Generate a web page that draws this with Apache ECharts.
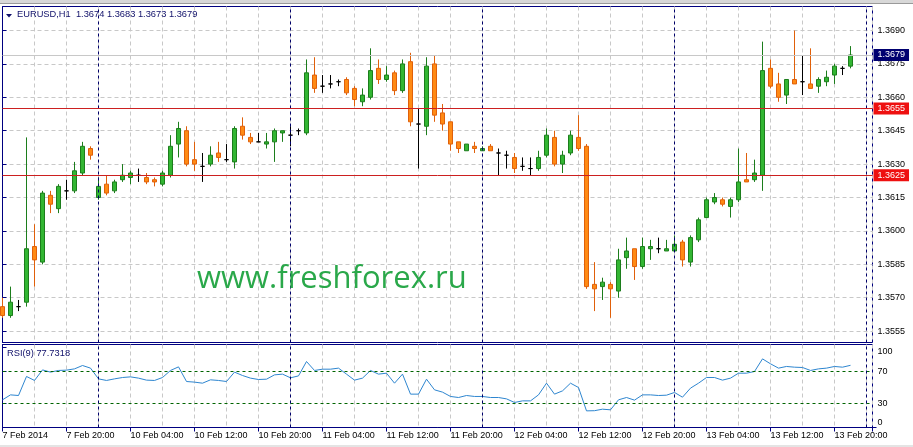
<!DOCTYPE html>
<html><head><meta charset="utf-8">
<script src="https://cdn.jsdelivr.net/npm/echarts@6/dist/echarts.min.js"></script>
<style>html,body{margin:0;padding:0;background:#fff}#main{width:913px;height:447px}</style>
</head><body><div id="main"></div>
<script>
// ---------- data ----------
const symbolName = 'EURUSD,H1';
const opens = [1.3566,1.3562,1.3566,1.3568,1.3593,1.3586,1.3616,1.3610,1.3618,1.3618,
 1.3626,1.3637,1.3615,1.3621,1.3618,1.3623,1.3624,1.3625,1.3624,1.3623,
 1.3621,1.3625,1.3639,1.3645,1.3632,1.3629,1.3630,1.3635,1.3632,1.3631,
 1.3647,1.3642,1.3640,1.3639,1.3640,1.3644,1.3643,1.3645,1.3644,1.3670,
 1.3665,1.3666,1.3667,1.3668,1.3664,1.3658,1.3660,1.3673,1.3668,1.3671,
 1.3663,1.3676,1.3648,1.3647,1.3675,1.3653,1.3649,1.3640,1.3636,1.3638,
 1.3636,1.3638,1.3635,1.3634,1.3633,1.3629,1.3628,1.3628,1.3634,1.3642,
 1.3630,1.3635,1.3642,1.3638,1.3576,1.3575,1.3576,1.3573,1.3588,1.3592,
 1.3584,1.3592,1.3592,1.3591,1.3591,1.3595,1.3586,1.3596,1.3606,1.3613,
 1.3614,1.3611,1.3614,1.3623,1.3623,1.3625,1.3673,1.3666,1.3661,1.3668,
 1.3667,1.3666,1.3665,1.3667,1.3670,1.3673,1.3674];
const highs = [1.3570,1.3575,1.3569,1.3642,1.3603,1.3618,1.3618,1.3621,1.3623,1.3631,
 1.3640,1.3638,1.3624,1.3625,1.3623,1.3630,1.3627,1.3628,1.3626,1.3624,
 1.3627,1.3643,1.3649,1.3647,1.3640,1.3635,1.3638,1.3640,1.3639,1.3647,
 1.3651,1.3644,1.3644,1.3644,1.3646,1.3645,1.3647,1.3646,1.3677,1.3678,
 1.3670,1.3670,1.3668,1.3669,1.3665,1.3664,1.3682,1.3677,1.3674,1.3672,
 1.3677,1.3680,1.3655,1.3678,1.3679,1.3657,1.3649,1.3640,1.3639,1.3640,
 1.3638,1.3639,1.3637,1.3636,1.3635,1.3633,1.3633,1.3636,1.3646,1.3645,
 1.3636,1.3645,1.3652,1.3639,1.3586,1.3579,1.3577,1.3592,1.3597,1.3592,
 1.3597,1.3596,1.3597,1.3596,1.3598,1.3596,1.3598,1.3606,1.3615,1.3617,
 1.3615,1.3615,1.3637,1.3635,1.3632,1.3685,1.3677,1.3671,1.3668,1.3690,
 1.3679,1.3682,1.3669,1.3672,1.3675,1.3674,1.3683];
const lows = [1.3561,1.3561,1.3564,1.3566,1.3575,1.3585,1.3608,1.3608,1.3614,1.3617,
 1.3625,1.3632,1.3614,1.3616,1.3617,1.3622,1.3621,1.3622,1.3621,1.3620,
 1.3620,1.3624,1.3633,1.3629,1.3627,1.3622,1.3629,1.3631,1.3631,1.3628,
 1.3641,1.3639,1.3640,1.3637,1.3631,1.3640,1.3638,1.3643,1.3643,1.3662,
 1.3662,1.3664,1.3665,1.3661,1.3656,1.3656,1.3659,1.3666,1.3667,1.3661,
 1.3662,1.3647,1.3628,1.3643,1.3649,1.3645,1.3636,1.3635,1.3636,1.3635,
 1.3636,1.3636,1.3625,1.3628,1.3626,1.3627,1.3625,1.3627,1.3633,1.3629,
 1.3626,1.3634,1.3636,1.3574,1.3564,1.3569,1.3561,1.3570,1.3583,1.3578,
 1.3583,1.3587,1.3590,1.3591,1.3591,1.3584,1.3584,1.3595,1.3606,1.3612,
 1.3611,1.3606,1.3613,1.3622,1.3622,1.3618,1.3664,1.3658,1.3657,1.3666,
 1.3661,1.3664,1.3662,1.3665,1.3666,1.3670,1.3673];
const closes = [1.3562,1.3568,1.3566,1.3592,1.3587,1.3617,1.3612,1.3620,1.3618,1.3627,
 1.3638,1.3634,1.3620,1.3617,1.3622,1.3625,1.3626,1.3625,1.3622,1.3622,
 1.3626,1.3638,1.3646,1.3630,1.3630,1.3629,1.3634,1.3633,1.3632,1.3646,
 1.3643,1.3640,1.3640,1.3640,1.3645,1.3645,1.3643,1.3645,1.3671,1.3664,
 1.3665,1.3666,1.3667,1.3662,1.3659,1.3661,1.3672,1.3668,1.3670,1.3663,
 1.3675,1.3649,1.3648,1.3674,1.3652,1.3648,1.3639,1.3637,1.3639,1.3637,
 1.3637,1.3636,1.3635,1.3634,1.3628,1.3629,1.3628,1.3633,1.3643,1.3630,
 1.3634,1.3643,1.3637,1.3575,1.3574,1.3577,1.3574,1.3587,1.3591,1.3584,
 1.3593,1.3593,1.3592,1.3592,1.3594,1.3587,1.3597,1.3605,1.3614,1.3615,
 1.3612,1.3614,1.3622,1.3622,1.3626,1.3672,1.3665,1.3660,1.3668,1.3666,
 1.3667,1.3664,1.3668,1.3669,1.3674,1.3673,1.3679];
const rsiName = 'RSI(9)';
const rsi = [34.6,40.8,40.0,63.8,58.8,72.0,69.2,71.3,71.7,73.3,
 77.5,74.2,60.8,58.8,60.8,62.5,63.3,61.7,59.2,58.8,
 62.5,71.3,75.8,57.5,56.7,55.4,59.6,58.8,57.5,69.2,
 65.0,61.7,60.0,60.4,65.8,66.7,62.1,64.5,82.5,71.3,
 72.9,72.9,74.2,66.7,59.2,61.7,71.3,66.7,67.9,55.4,
 66.7,41.7,41.7,60.4,47.1,44.2,38.8,37.5,40.0,38.8,
 38.8,37.5,37.5,35.8,31.3,33.3,33.3,40.8,55.4,41.7,
 45.8,55.4,50.0,20.8,21.0,22.9,22.1,34.6,37.5,34.2,
 40.8,40.8,40.0,40.4,43.8,37.9,49.2,55.4,62.5,62.5,
 59.2,61.7,67.9,67.9,70.0,85.8,79.6,74.2,76.3,75.4,
 75.0,71.3,73.3,74.2,76.3,75.4,77.7318];
const tickLabels = ['7 Feb 2014','7 Feb 20:00','10 Feb 04:00','10 Feb 12:00','10 Feb 20:00',
 '11 Feb 04:00','11 Feb 12:00','11 Feb 20:00','12 Feb 04:00','12 Feb 12:00',
 '12 Feb 20:00','13 Feb 04:00','13 Feb 12:00','13 Feb 20:00'];
const priceTicks = [1.3555,1.3570,1.3585,1.3600,1.3615,1.3630,1.3645,1.3660,1.3675,1.3690];
const hLevels = [1.3655, 1.3625];
const lastPrice = 1.3679;
const rsiLevels = [70, 30];
const daySeparators = [12, 36, 60, 84, 108];
const watermark = 'www.freshforex.ru';

// ---------- layout / style ----------
const FONT = "'Liberation Sans', Arial, sans-serif";
const NAVY = '#000080';
const SEP = '#00006a';
const TXT = '#10106a';
const GRID_C = '#c8c8c8';
const BULL_FILL = '#33b633', BULL_LINE = '#1c7d1c', BEAR_FILL = '#ff8a14', BEAR_LINE = '#e0600a';
const X0 = 2.5, TOP = 6.5, MAIN_H = 336, RSI_TOP = 344.5, RSI_H = 83, PLOT_W = 870, BAR_PX = 8;
const X_MAX = PLOT_W / BAR_PX;
const PX_PER_UNIT = 2.227 / 0.0001;
const Y_REF = 1.3690, Y_REF_PX = 30.5;
const Y_MAX = Y_REF + (Y_REF_PX - TOP) / PX_PER_UNIT;
const Y_MIN = Y_REF - (TOP + MAIN_H - Y_REF_PX) / PX_PER_UNIT;
const RSI_MAX = RSI_H / 0.8;
const n = opens.length;
const fmt = v => v.toFixed(4);

const candleData = opens.map((o, i) => {
  const item = { value: [i, o, closes[i], lows[i], highs[i]] };
  if (o === closes[i]) item.itemStyle = { color: '#000', color0: '#000', borderColor: '#000', borderColor0: '#000', borderColorDoji: '#000' };
  return item;
});
const rsiData = rsi.map((v, i) => [i, v]);

const sepLines = daySeparators.map(x => ({ xAxis: x, lineStyle: { color: SEP, type: [3, 3], width: 1 }, label: { show: false } }));
const boxLabel = bg => ({ show: true, position: 'end', distance: 1, formatter: p => fmt(Number(p.value)),
  backgroundColor: bg, color: '#fff', fontSize: 9, fontFamily: FONT, padding: [1, 4, 1, 4], lineHeight: 10 });

const axisText = { fontSize: 9, fontFamily: FONT, color: '#000' };
const rsiY = (vals, va, showLine) => ({
  gridIndex: 1, type: 'value', position: 'right', min: 0, max: RSI_MAX,
  axisLine: { show: showLine, lineStyle: { color: NAVY } },
  axisTick: { show: true, length: 4, customValues: vals, lineStyle: { color: NAVY } },
  axisLabel: Object.assign({ customValues: vals, margin: 5, verticalAlign: va }, axisText),
  splitLine: { show: false }
});

const chart = echarts.init(document.getElementById('main'), null, { renderer: 'canvas' });
chart.setOption({
  animation: false,
  backgroundColor: '#fff',
  title: [
    { text: `${symbolName}  ${fmt(opens[n-1])} ${fmt(highs[n-1])} ${fmt(lows[n-1])} ${fmt(closes[n-1])}`,
      left: 17, top: 10, padding: 0, textStyle: { fontSize: 9.3, fontWeight: 'normal', color: TXT, fontFamily: FONT } },
    { text: `${rsiName} ${rsi[n-1].toFixed(4)}`,
      left: 7, top: 349, padding: 0, textStyle: { fontSize: 9.3, fontWeight: 'normal', color: TXT, fontFamily: FONT } }
  ],
  grid: [
    { left: X0, top: TOP, width: PLOT_W, height: MAIN_H, show: true, borderColor: NAVY, borderWidth: 1, backgroundColor: 'transparent', containLabel: false, outerBoundsMode: 'none' },
    { left: X0, top: RSI_TOP, width: PLOT_W, height: RSI_H, show: true, borderColor: NAVY, borderWidth: 1, backgroundColor: 'transparent', containLabel: false, outerBoundsMode: 'none' }
  ],
  xAxis: [
    { gridIndex: 0, type: 'value', min: 0, max: X_MAX, interval: 4, position: 'bottom',
      axisLine: { show: false }, axisTick: { show: false }, axisLabel: { show: false },
      splitLine: { show: true, lineStyle: { color: GRID_C, type: [4, 3], width: 1 } } },
    { gridIndex: 1, type: 'value', min: 0, max: X_MAX, interval: 4, position: 'bottom',
      axisLine: { show: false }, axisTick: { show: false }, axisLabel: { show: false },
      splitLine: { show: true, lineStyle: { color: GRID_C, type: [4, 3], width: 1 } } },
    { gridIndex: 1, type: 'value', min: 0, max: X_MAX, interval: 8, position: 'bottom',
      axisLine: { show: true, lineStyle: { color: NAVY } },
      axisTick: { show: true, length: 4, lineStyle: { color: NAVY } },
      axisLabel: Object.assign({ align: 'left', margin: 4, showMaxLabel: true,
        formatter: v => { const i = Math.round(v / 8); return (Math.abs(v - i * 8) < 1e-6 && tickLabels[i]) ? tickLabels[i] : ''; } }, axisText),
      splitLine: { show: false } }
  ],
  yAxis: [
    { gridIndex: 0, type: 'value', position: 'right', min: Y_MIN, max: Y_MAX,
      axisLine: { show: true, lineStyle: { color: NAVY } },
      axisTick: { show: true, length: 4, customValues: priceTicks, lineStyle: { color: NAVY } },
      axisLabel: Object.assign({ customValues: priceTicks, margin: 5, formatter: v => fmt(v) }, axisText),
      splitLine: { show: true, lineStyle: { color: GRID_C, type: [4, 3], width: 1 } } },
    rsiY([30, 70], 'middle', true),
    rsiY([100], 'top', false),
    rsiY([0], 'bottom', false)
  ],
  graphic: [
    { type: 'rect', silent: true, z: 100, shape: { x: 0, y: 0, width: 913, height: 3 }, style: { fill: '#d8d8d8' } },
    { type: 'line', silent: true, z: 100, shape: { x1: 0, y1: 3.5, x2: 913, y2: 3.5 }, style: { stroke: '#9a9a9a', lineWidth: 1 } },
    { type: 'rect', silent: true, z: 100, shape: { x: 0, y: 445, width: 913, height: 2 }, style: { fill: '#e4e4e4' } },
    { type: 'polygon', silent: true, z: 100, shape: { points: [[6, 14], [12, 14], [9, 17.5]] }, style: { fill: TXT } },
    { type: 'text', silent: true, z: 50, x: 197, y: 279,
      style: { text: watermark, fontSize: 31, fontFamily: "'Open Sans', 'Noto Sans', sans-serif", fill: '#2aa84a', align: 'left', verticalAlign: 'middle' } }
  ],
  series: [
    { type: 'candlestick', name: symbolName, xAxisIndex: 0, yAxisIndex: 0, data: candleData, barWidth: 5, clip: true,
      itemStyle: { color: BULL_FILL, color0: BEAR_FILL, borderColor: BULL_LINE, borderColor0: BEAR_LINE, borderColorDoji: '#000', borderWidth: 1 },
      markLine: { silent: true, symbol: ['none', 'none'], animation: false, precision: 4,
        data: [
          ...sepLines,
          { yAxis: lastPrice, lineStyle: { color: '#c8c8c8', type: 'solid', width: 1 }, label: boxLabel('#000070') },
          ...hLevels.map(v => ({ yAxis: v, lineStyle: { color: '#cc2020', type: 'solid', width: 1 }, label: boxLabel('#ee1010') }))
        ] } },
    { type: 'line', name: rsiName, xAxisIndex: 1, yAxisIndex: 1, data: rsiData, showSymbol: false, symbol: 'none',
      lineStyle: { color: '#2e86d0', width: 1 }, clip: true,
      markLine: { silent: true, symbol: ['none', 'none'], animation: false,
        data: [
          ...rsiLevels.map(v => ({ yAxis: v, lineStyle: { color: '#006400', type: [3, 3], width: 1 }, label: { show: false } })),
          ...sepLines
        ] } }
  ]
});
</script></body></html>
